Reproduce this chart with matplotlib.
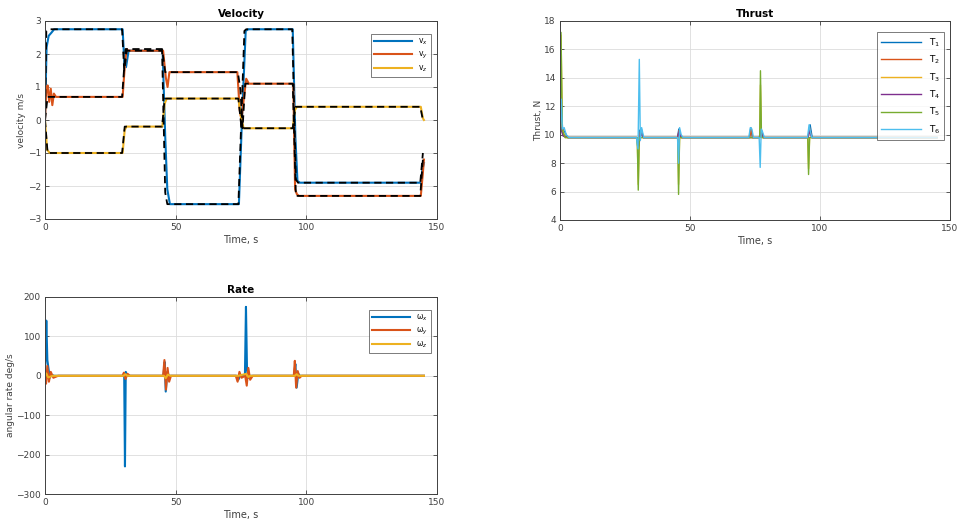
import matplotlib
matplotlib.use("Agg")
import matplotlib.pyplot as plt

# ---------------- data ----------------
C_BLUE = "#0072BD"; C_ORANGE = "#D95319"; C_YELLOW = "#EDB120"
C_PURPLE = "#7E2F8E"; C_GREEN = "#77AC30"; C_CYAN = "#4DBEEE"

# Velocity: actual
vx_t = [0, 0.6, 1.4, 2.5, 3.5, 29.7, 30.4, 31.0, 32.0, 45.0, 46.0, 46.8, 47.8, 74.2, 75.5, 76.8, 77.8, 94.8, 95.8, 96.6, 97.6, 143.8, 144.4, 145.0]
vx_v = [0, 2.2, 2.55, 2.65, 2.75, 2.75, 1.7, 1.6, 2.1, 2.1, -0.5, -2.1, -2.55, -2.55, 0.3, 2.7, 2.75, 2.75, -0.5, -1.85, -1.9, -1.9, -1.5, -1.3]
vy_t = [0, 0.5, 1.0, 1.6, 2.2, 2.8, 3.4, 4.2, 29.7, 30.5, 31.2, 32.0, 45.2, 46.2, 46.9, 47.6, 48.5, 73.6, 74.5, 75.2, 76.0, 77.0, 78.0, 95.0, 95.7, 96.4, 97.2, 143.8, 144.6, 145.0]
vy_v = [0, 0.9, 1.05, 0.55, 0.95, 0.45, 0.8, 0.7, 0.7, 1.6, 2.15, 2.1, 2.1, 1.3, 1.0, 1.45, 1.45, 1.45, 0.3, 0.0, 0.6, 1.25, 1.1, 1.1, -2.1, -2.25, -2.3, -2.3, -1.6, -1.2]
vz_t = [0, 0.8, 1.8, 29.7, 30.5, 31.2, 44.9, 45.8, 46.6, 74.0, 75.0, 76.0, 94.8, 95.6, 96.4, 143.8, 144.6, 145.0]
vz_v = [0, -0.9, -1.0, -1.0, -0.3, -0.2, -0.2, 0.5, 0.65, 0.65, 0.1, -0.25, -0.25, 0.3, 0.4, 0.4, 0.05, 0.0]
# Velocity: reference (black dashed)
rx_t = [0, 0.5, 1.5, 29.5, 30.3, 31.3, 44.8, 46.0, 46.8, 74.0, 76.3, 77.0, 94.6, 96.0, 96.8, 143.6, 144.6]
rx_v = [0, 2.7, 2.75, 2.75, 1.5, 2.1, 2.1, -2.2, -2.55, -2.55, 2.7, 2.75, 2.75, -1.8, -1.9, -1.9, -1.0]
ry_t = [0, 1.0, 29.5, 30.8, 44.8, 46.0, 73.8, 74.8, 75.6, 76.6, 94.8, 96.0, 143.6, 144.6]
ry_v = [0, 0.7, 0.7, 2.15, 2.15, 1.45, 1.45, 0.9, -0.25, 1.1, 1.1, -2.3, -2.3, -1.2]
rz_t = [0, 1.0, 29.5, 30.5, 44.8, 45.8, 74.0, 75.2, 94.8, 95.8, 143.6, 144.6]
rz_v = [0, -1.0, -1.0, -0.2, -0.2, 0.65, 0.65, -0.25, -0.25, 0.4, 0.4, 0.0]

# Thrust (N)
T1_t = [0, 0.5, 1.0, 1.8, 3.0, 29.5, 30.0, 30.6, 31.3, 32.0, 45.2, 45.7, 46.3, 47.0, 72.8, 73.4, 74.0, 76.6, 77.4, 78.2, 95.4, 96.2, 97.0, 145.0]
T1_v = [9.8, 12.0, 10.4, 10.2, 9.8, 9.8, 9.0, 10.3, 10.4, 9.8, 9.8, 10.4, 10.0, 9.8, 9.8, 10.5, 9.8, 9.8, 10.4, 9.8, 9.8, 10.7, 9.8, 9.8]
T2_t = [0, 0.5, 1.2, 3.0, 29.6, 30.2, 30.9, 32.0, 45.2, 45.8, 46.6, 73.0, 73.5, 74.1, 76.8, 77.4, 78.2, 95.4, 96.0, 96.8, 145.0]
T2_v = [9.8, 11.0, 10.0, 9.8, 9.8, 9.3, 10.2, 9.8, 9.8, 10.3, 9.8, 9.8, 10.4, 9.8, 9.8, 10.2, 9.8, 9.8, 10.5, 9.8, 9.8]
T3_t = [0, 0.4, 0.9, 2.0, 29.7, 30.1, 30.5, 31.4, 45.3, 45.6, 46.0, 76.8, 77.1, 77.5, 95.3, 95.6, 96.0, 145.0]
T3_v = [9.8, 17.0, 10.4, 9.8, 9.8, 6.5, 9.8, 9.8, 9.8, 6.5, 9.8, 9.8, 13.5, 9.8, 9.8, 7.6, 9.8, 9.8]
T4_t = [0, 0.5, 1.2, 3.0, 29.6, 30.3, 31.0, 32.0, 45.2, 45.8, 46.6, 76.8, 77.4, 78.2, 95.4, 96.0, 96.8, 145.0]
T4_v = [9.8, 10.5, 9.9, 9.8, 9.8, 9.2, 10.1, 9.8, 9.8, 10.2, 9.8, 9.8, 10.2, 9.8, 9.8, 10.3, 9.8, 9.8]
T5_t = [0, 0.4, 0.9, 2.0, 29.7, 30.1, 30.5, 31.4, 45.3, 45.6, 46.0, 76.8, 77.1, 77.5, 95.3, 95.6, 96.0, 145.0]
T5_v = [9.8, 17.2, 10.3, 9.8, 9.8, 6.1, 9.8, 9.8, 9.8, 5.8, 9.8, 9.8, 14.5, 9.8, 9.8, 7.2, 9.8, 9.8]
T6_t = [0, 0.5, 0.9, 1.6, 2.4, 3.5, 29.4, 30.0, 30.5, 30.9, 31.4, 32.2, 45.2, 45.6, 46.0, 46.6, 47.3, 72.6, 73.2, 73.8, 74.4, 76.6, 77.0, 77.4, 77.9, 78.6, 95.2, 95.8, 96.3, 96.9, 145.0]
T6_v = [9.8, 12.5, 10.4, 10.5, 10.0, 9.8, 9.8, 9.0, 15.3, 9.6, 10.5, 9.8, 9.8, 8.0, 10.5, 10.0, 9.8, 9.8, 10.5, 10.4, 9.8, 9.8, 7.7, 10.4, 10.2, 9.8, 9.8, 10.7, 10.2, 9.8, 9.8]

# Rate (deg/s)
wx_t = [0, 0.5, 0.9, 1.3, 1.8, 2.4, 3.5, 29.8, 30.3, 30.6, 30.9, 31.5, 45.3, 45.8, 46.2, 46.8, 47.4, 73.4, 74.0, 74.6, 76.5, 76.9, 77.3, 77.8, 78.5, 95.3, 95.8, 96.3, 96.9, 97.6, 145.0]
wx_v = [0, 140, 40, 20, -5, 3, 0, 0, 5, -230, 10, 0, 0, 35, -40, 10, 0, 0, -10, 0, 0, 175, 15, -5, 0, 0, 30, -30, 5, 0, 0]
wy_t = [0, 0.4, 0.9, 1.5, 2.2, 3.2, 5.0, 29.6, 30.2, 30.8, 31.6, 32.5, 45.2, 45.7, 46.3, 46.9, 47.5, 48.2, 73.0, 73.7, 74.4, 75.2, 76.6, 77.2, 77.8, 78.5, 79.5, 95.2, 95.6, 96.1, 96.7, 97.4, 98.2, 145.0]
wy_v = [0, -20, 25, -15, 10, -5, 0, 0, 8, -8, 5, 0, 0, 40, -35, 20, -15, 0, 0, -15, 10, -5, 0, -25, 20, -10, 0, 0, 38, -30, 12, -5, 0, 0]
wz_t = [0, 0.5, 1.2, 3.0, 30.0, 30.8, 31.5, 45.5, 46.2, 47.0, 48.0, 74.0, 77.0, 77.8, 78.6, 95.6, 96.3, 97.0, 145.0]
wz_v = [0, 6, -4, 0, 0, 4, 0, 0, -6, 3, 0, 0, 5, -3, 0, 0, 4, 0, 0]

# ---------------- plotting ----------------
plt.rcParams["font.family"] = ["DejaVu Sans"]
fig = plt.figure(figsize=(9.64, 5.32), dpi=100)

def pos(l, r, t, b):
    return [l / 964, 1 - b / 532, (r - l) / 964, (b - t) / 532]

def style(ax, ylim, yticks, title, ylabel):
    ax.set_xlim(0, 150)
    ax.set_xticks([0, 50, 100, 150])
    ax.set_ylim(*ylim)
    ax.set_yticks(yticks)
    ax.grid(True, color="#dcdcdc", lw=0.6)
    ax.set_axisbelow(True)
    ax.tick_params(direction="in", top=True, right=True, labelsize=6.5,
                   colors="#404040", length=3, width=0.6, pad=3)
    for s in ax.spines.values():
        s.set_color("#404040"); s.set_linewidth(0.7)
    ax.set_title(title, fontsize=7.5, fontweight="bold", pad=3)
    ax.set_xlabel("Time, s", fontsize=7, color="#404040", labelpad=2)
    ax.set_ylabel(ylabel, fontsize=6.5, color="#404040", labelpad=1)

# Velocity
ax1 = fig.add_axes(pos(45, 437, 21, 219))
ax1.plot(vx_t, vx_v, color=C_BLUE, lw=1.5, label="v$_x$")
ax1.plot(vy_t, vy_v, color=C_ORANGE, lw=1.5, label="v$_y$")
ax1.plot(vz_t, vz_v, color=C_YELLOW, lw=1.5, label="v$_z$")
for t, v in [(rx_t, rx_v), (ry_t, ry_v), (rz_t, rz_v)]:
    ax1.plot(t, v, color="black", lw=1.3, ls=(0, (4, 2.5)))
style(ax1, (-3, 3), [-3, -2, -1, 0, 1, 2, 3], "Velocity", "velocity m/s")
leg = ax1.legend(loc="upper right", fontsize=5.5, handlelength=5, frameon=True,
                 fancybox=False, edgecolor="#404040", borderpad=0.4,
                 labelspacing=0.3, bbox_to_anchor=(0.995, 0.955))
leg.get_frame().set_linewidth(0.6)

# Thrust
ax2 = fig.add_axes(pos(560, 950, 21, 220))
for t, v, c, lab in [(T1_t, T1_v, C_BLUE, "T$_1$"), (T2_t, T2_v, C_ORANGE, "T$_2$"),
                     (T3_t, T3_v, C_YELLOW, "T$_3$"), (T4_t, T4_v, C_PURPLE, "T$_4$"),
                     (T5_t, T5_v, C_GREEN, "T$_5$"), (T6_t, T6_v, C_CYAN, "T$_6$")]:
    ax2.plot(t, v, color=c, lw=1.0, label=lab)
style(ax2, (4, 18), [4, 6, 8, 10, 12, 14, 16, 18], "Thrust", "Thrust, N")
leg = ax2.legend(loc="upper right", fontsize=6.5, handlelength=4.5, frameon=True,
                 fancybox=False, edgecolor="#404040", borderpad=0.4,
                 labelspacing=0.55, bbox_to_anchor=(0.995, 0.965))
leg.get_frame().set_linewidth(0.6)

# Rate
ax3 = fig.add_axes(pos(45, 437, 297, 494))
ax3.plot(wx_t, wx_v, color=C_BLUE, lw=1.5, label="ω$_x$")
ax3.plot(wy_t, wy_v, color=C_ORANGE, lw=1.5, label="ω$_y$")
ax3.plot(wz_t, wz_v, color=C_YELLOW, lw=1.5, label="ω$_z$")
style(ax3, (-300, 200), [-300, -200, -100, 0, 100, 200], "Rate", "angular rate deg/s")
leg = ax3.legend(loc="upper right", fontsize=5.5, handlelength=5, frameon=True,
                 fancybox=False, edgecolor="#404040", borderpad=0.4,
                 labelspacing=0.3, bbox_to_anchor=(0.995, 0.955))
leg.get_frame().set_linewidth(0.6)

fig.savefig("out.png", dpi=100, facecolor="white")
